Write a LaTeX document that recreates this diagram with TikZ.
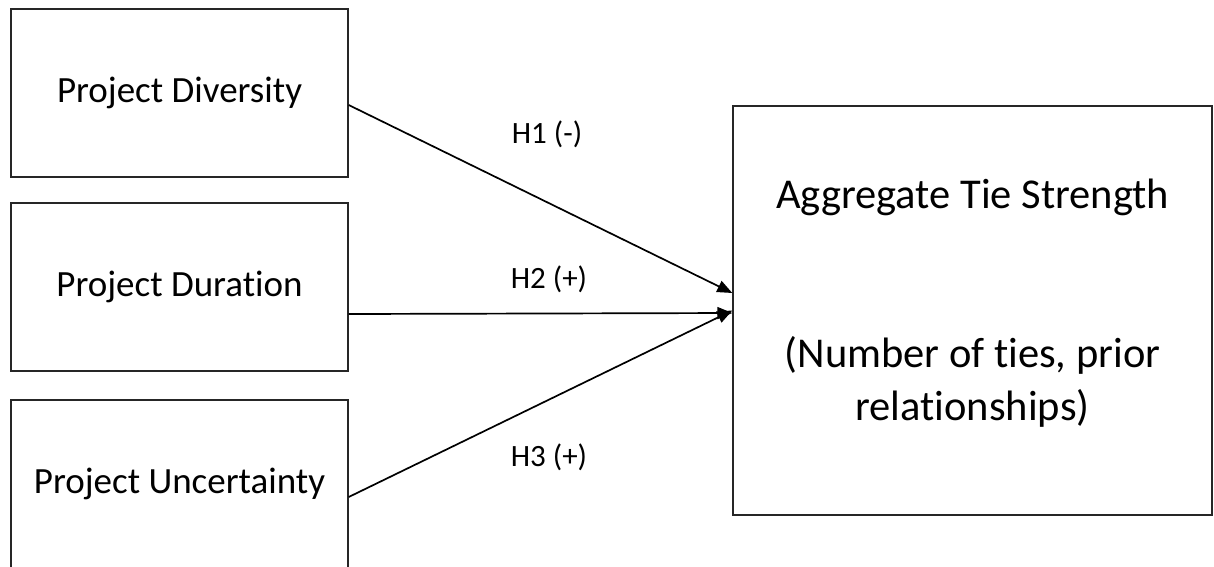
\documentclass[tikz,border=0pt]{standalone}
\usepackage{fontspec}
\setmainfont{Carlito}[Ligatures=NoCommon]
\usetikzlibrary{arrows.meta}
\begin{document}
\begin{tikzpicture}[x=1pt,y=-1pt,
  box/.style={draw=black!85, line width=1.4pt, minimum width=337pt, minimum height=168pt, inner sep=0pt, font=\fontsize{37}{44}\selectfont},
  hyp/.style={font=\fontsize{31}{37}\selectfont, inner sep=0pt},
  link/.style={line width=1.7pt, -{Triangle[length=15pt,width=12pt]}}]
\useasboundingbox (0,0) rectangle (1214,566);
\node[box] (div) at (179.5,93) {Project Diversity};
\node[box] (dur) at (179.5,287) {Project Duration};
\node[box] (unc) at (179.5,484) {Project Uncertainty};
\node[box, minimum width=479pt, minimum height=409pt] (ats) at (972.5,310.5) {};
\node[font=\fontsize{42.5}{53}\selectfont, align=center, inner sep=0pt] (atsText) at (972.5,303) {Aggregate Tie Strength\\[106pt](Number of ties, prior\\relationships)};
\node[hyp] (h1) at (547,134) {H1 (-)};
\node[hyp] (h2) at (549,279) {H2 (+)};
\node[hyp] (h3) at (549,457) {H3 (+)};
\draw[link] ([yshift=-12pt]div.east) -- ([yshift=17.5pt]ats.west);
\draw[link] ([yshift=-27pt]dur.east) -- ([yshift=-2.5pt]ats.west);
\draw[link] ([yshift=-13pt]unc.east) -- ([yshift=0pt]ats.west);
\end{tikzpicture}
\end{document}
